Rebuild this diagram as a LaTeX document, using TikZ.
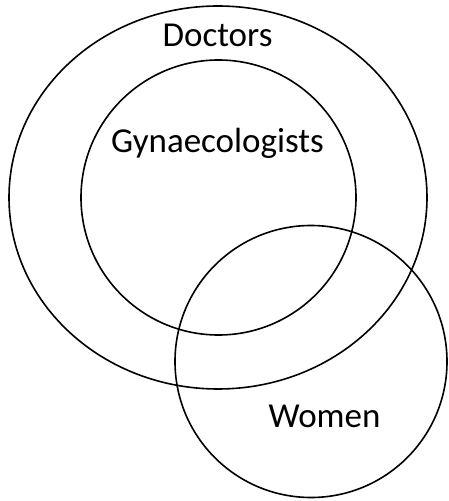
\documentclass[tikz,border=0pt]{standalone}
\usepackage{fontspec}
\setmainfont{Carlito}
\usetikzlibrary{shapes.geometric}
\begin{document}
\begin{tikzpicture}[x=1pt,y=1pt,
  setline/.style={draw=black, line width=1.6pt, inner sep=0pt, outer sep=0pt},
  label/.style={font=\fontsize{35}{38}\selectfont, anchor=base, inner sep=0pt}]
\useasboundingbox (0,0) rectangle (448,501);
\fill[white] (0,0) rectangle (448,501);
\node[setline, ellipse, minimum width=418pt, minimum height=383pt] (doctors) at (218,303.5) {};
\node[setline, circle, minimum size=275pt] (gyn) at (218.5,303.5) {};
\node[setline, circle, minimum size=272pt] (women) at (311,139.5) {};
\node[label] (tdoc) at (217.5,454) {Doctors};
\node[label] (tgyn) at (217.5,348) {Gynaecologists};
\node[label] (twom) at (324.5,73) {Women};
\end{tikzpicture}
\end{document}
